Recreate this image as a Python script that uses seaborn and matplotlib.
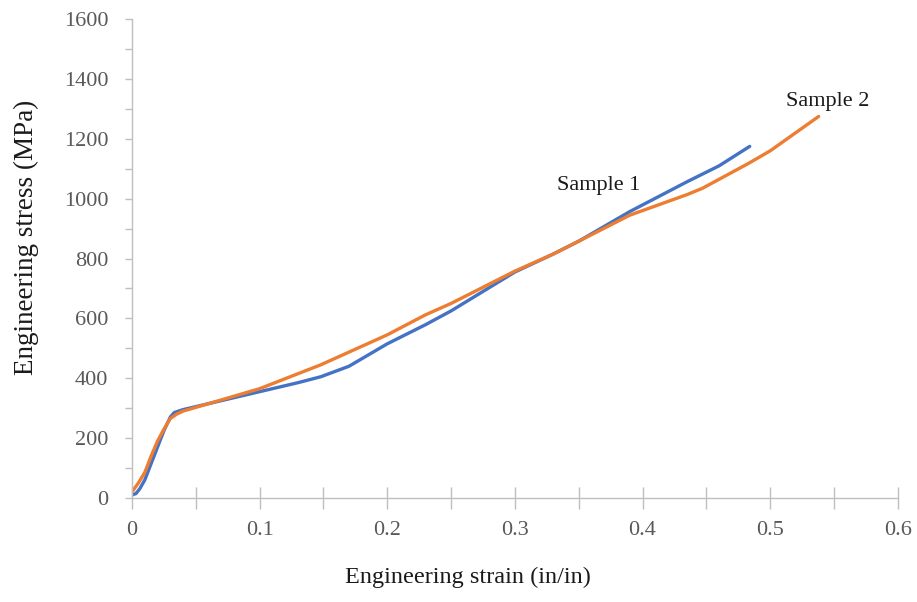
import numpy as np
import pandas as pd
import matplotlib
matplotlib.use("Agg")
import matplotlib.pyplot as plt
import seaborn as sns
from matplotlib.ticker import MultipleLocator, FuncFormatter

# Engineering stress-strain readings for the two tensile samples
strain_s1 = [0.0, 0.003, 0.006, 0.010, 0.015, 0.020, 0.025, 0.030, 0.033, 0.040, 0.050,
             0.065, 0.080, 0.100, 0.130, 0.148, 0.170, 0.200, 0.230, 0.250, 0.300,
             0.330, 0.350, 0.390, 0.435, 0.460, 0.484]
stress_s1 = [10, 14, 30, 60, 115, 170, 225, 270, 285, 295, 305,
             320, 335, 355, 385, 405, 440, 515, 579, 625, 755,
             815, 858, 957, 1057, 1110, 1175]

strain_s2 = [0.0, 0.005, 0.010, 0.015, 0.020, 0.025, 0.030, 0.035, 0.040, 0.060,
             0.080, 0.100, 0.133, 0.148, 0.200, 0.230, 0.250, 0.300, 0.330, 0.350,
             0.390, 0.435, 0.447, 0.483, 0.500, 0.538]
stress_s2 = [20, 50, 85, 140, 190, 230, 265, 280, 290, 315,
             340, 365, 420, 445, 545, 612, 650, 758, 815, 858,
             945, 1014, 1035, 1118, 1160, 1275]

sample_names = ["Sample 1", "Sample 2"]
line_colors = ["#4472C4", "#ED7D31"]

df = pd.concat([
    pd.DataFrame({"strain": strain_s1, "stress": stress_s1, "sample": sample_names[0]}),
    pd.DataFrame({"strain": strain_s2, "stress": stress_s2, "sample": sample_names[1]}),
], ignore_index=True)

sns.set_style("white")
plt.rcParams["font.family"] = ["Liberation Serif", "DejaVu Serif"]

fig = plt.figure(figsize=(9.17, 6.02), dpi=100)
ax = fig.add_axes([0.144, 0.173, 0.835, 0.795])

sns.lineplot(data=df, x="strain", y="stress", hue="sample", palette=line_colors,
             hue_order=sample_names, sort=False, estimator=None, linewidth=2.4,
             legend=False, ax=ax)

ax.set_xlim(0, 0.6)
ax.set_ylim(0, 1600)
ax.xaxis.set_major_locator(MultipleLocator(0.1))
ax.xaxis.set_minor_locator(MultipleLocator(0.05))
ax.yaxis.set_major_locator(MultipleLocator(200))
ax.yaxis.set_minor_locator(MultipleLocator(100))
ax.xaxis.set_major_formatter(FuncFormatter(lambda v, p: f"{v:g}"))

spine_color = "#BFBFBF"
for side in ["top", "right"]:
    ax.spines[side].set_visible(False)
for side in ["left", "bottom"]:
    ax.spines[side].set_color(spine_color)
    ax.spines[side].set_linewidth(1.0)

ax.tick_params(axis="x", which="both", direction="inout", length=16, width=1,
               color=spine_color, labelsize=16, labelcolor="#595959", pad=9,
               bottom=True)
ax.tick_params(axis="y", which="both", direction="out", length=5, width=1,
               color=spine_color, labelsize=16, labelcolor="#595959", pad=12,
               left=True)

ax.set_xlabel("Engineering strain (in/in)", fontsize=17.5, color="#1a1a1a")
ax.set_ylabel("Engineering stress (MPa)", fontsize=19.5, color="#1a1a1a")
ax.xaxis.set_label_coords(0.439, -0.145)
ax.yaxis.set_label_coords(-0.121, 0.545)

ax.text(0.366, 1043, "Sample 1", fontsize=16, ha="center", va="center", color="#1a1a1a")
ax.text(0.545, 1325, "Sample 2", fontsize=16, ha="center", va="center", color="#1a1a1a")

fig.savefig("out.png", dpi=100, facecolor="white")
